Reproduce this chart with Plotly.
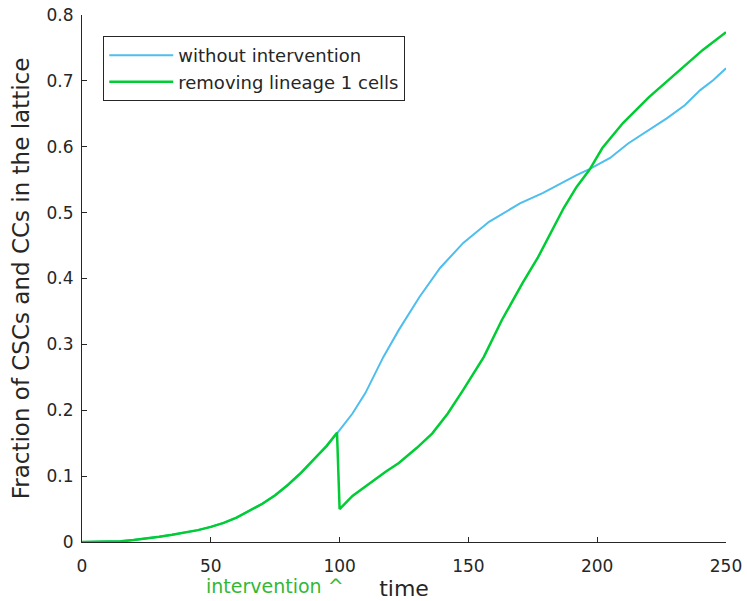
import plotly.graph_objects as go

# Without intervention (blue)
t_blue = [0, 10, 15, 20, 25, 30, 35, 40, 45, 50, 55, 60, 65, 70, 75, 80, 85, 90, 95, 100,
          105, 110, 117, 123, 131, 139, 148, 158, 170, 179, 192, 197, 205, 212, 220, 227,
          234, 240, 245, 250]
y_blue = [0, 0, 0.001, 0.003, 0.005, 0.008, 0.011, 0.014, 0.018, 0.023, 0.029, 0.037, 0.047,
          0.058, 0.071, 0.087, 0.105, 0.126, 0.146, 0.170, 0.195, 0.226, 0.281, 0.322, 0.372,
          0.416, 0.454, 0.486, 0.514, 0.530, 0.557, 0.566, 0.583, 0.605, 0.625, 0.643, 0.663,
          0.686, 0.701, 0.719]

# Removing lineage 1 cells (green)
t_green = [0, 10, 15, 20, 25, 30, 35, 40, 45, 50, 55, 60, 65, 70, 75, 80, 85, 90, 95, 99,
           100, 105, 112, 118, 123, 130, 136, 142, 148, 156, 163, 171, 177, 182, 187, 192,
           197, 202, 210, 220, 232, 241, 250]
y_green = [0, 0, 0.001, 0.003, 0.005, 0.008, 0.011, 0.014, 0.018, 0.023, 0.029, 0.037, 0.047,
           0.058, 0.071, 0.087, 0.105, 0.126, 0.146, 0.166, 0.050, 0.070, 0.090, 0.107, 0.120,
           0.143, 0.165, 0.195, 0.231, 0.281, 0.337, 0.393, 0.432, 0.469, 0.507, 0.539, 0.565,
           0.598, 0.636, 0.675, 0.716, 0.747, 0.774]

x_ticks = [0, 50, 100, 150, 200, 250]
y_ticks = [0, 0.1, 0.2, 0.3, 0.4, 0.5, 0.6, 0.7, 0.8]
y_tick_labels = ["0", "0.1", "0.2", "0.3", "0.4", "0.5", "0.6", "0.7", "0.8"]

BLUE = "#4DBEEE"
GREEN = "#00CC33"
DARK = "#262626"
FONT = "DejaVu Sans"

fig = go.Figure()
fig.add_trace(go.Scatter(x=t_blue, y=y_blue, mode="lines", name="without intervention",
                         line=dict(color=BLUE, width=2)))
fig.add_trace(go.Scatter(x=t_green, y=y_green, mode="lines", name="removing lineage 1 cells",
                         line=dict(color=GREEN, width=2.5)))

fig.update_layout(
    width=747, height=601,
    margin=dict(l=82, r=21, t=15, b=59, pad=0, autoexpand=False),
    plot_bgcolor="white", paper_bgcolor="white",
    font=dict(family=FONT, color=DARK, size=17),
    showlegend=True,
    legend=dict(x=0.033, y=0.96, xanchor="left", yanchor="top",
                bgcolor="white", bordercolor=DARK, borderwidth=1,
                font=dict(size=18, family=FONT, color=DARK),
                tracegroupgap=0, itemwidth=64),
    xaxis=dict(range=[0, 250], tickvals=x_ticks, ticks="inside", ticklen=5,
               tickcolor=DARK, showline=True, linecolor=DARK, linewidth=1,
               showgrid=False, zeroline=False, mirror=False, automargin=False,
               ticklabelstandoff=9,
               tickfont=dict(size=17, color=DARK),
               title=dict(text="time", font=dict(size=22, color=DARK), standoff=15)),
    yaxis=dict(range=[0, 0.8], tickvals=y_ticks, ticktext=y_tick_labels, ticks="inside",
               ticklen=5, tickcolor=DARK, showline=True, linecolor=DARK, linewidth=1,
               showgrid=False, zeroline=False, mirror=False, automargin=False,
               ticklabelstandoff=4,
               tickfont=dict(size=17, color=DARK),
               title=dict(text="Fraction of CSCs and CCs in the lattice",
                          font=dict(size=23, color=DARK), standoff=10)),
)

fig.add_annotation(x=102, y=0, xref="x", yref="paper", yshift=-32,
                   text="intervention ^", showarrow=False, xanchor="right",
                   yanchor="top", borderpad=0,
                   font=dict(size=19, color="#33B833", family=FONT))

fig.write_html("out.html")
